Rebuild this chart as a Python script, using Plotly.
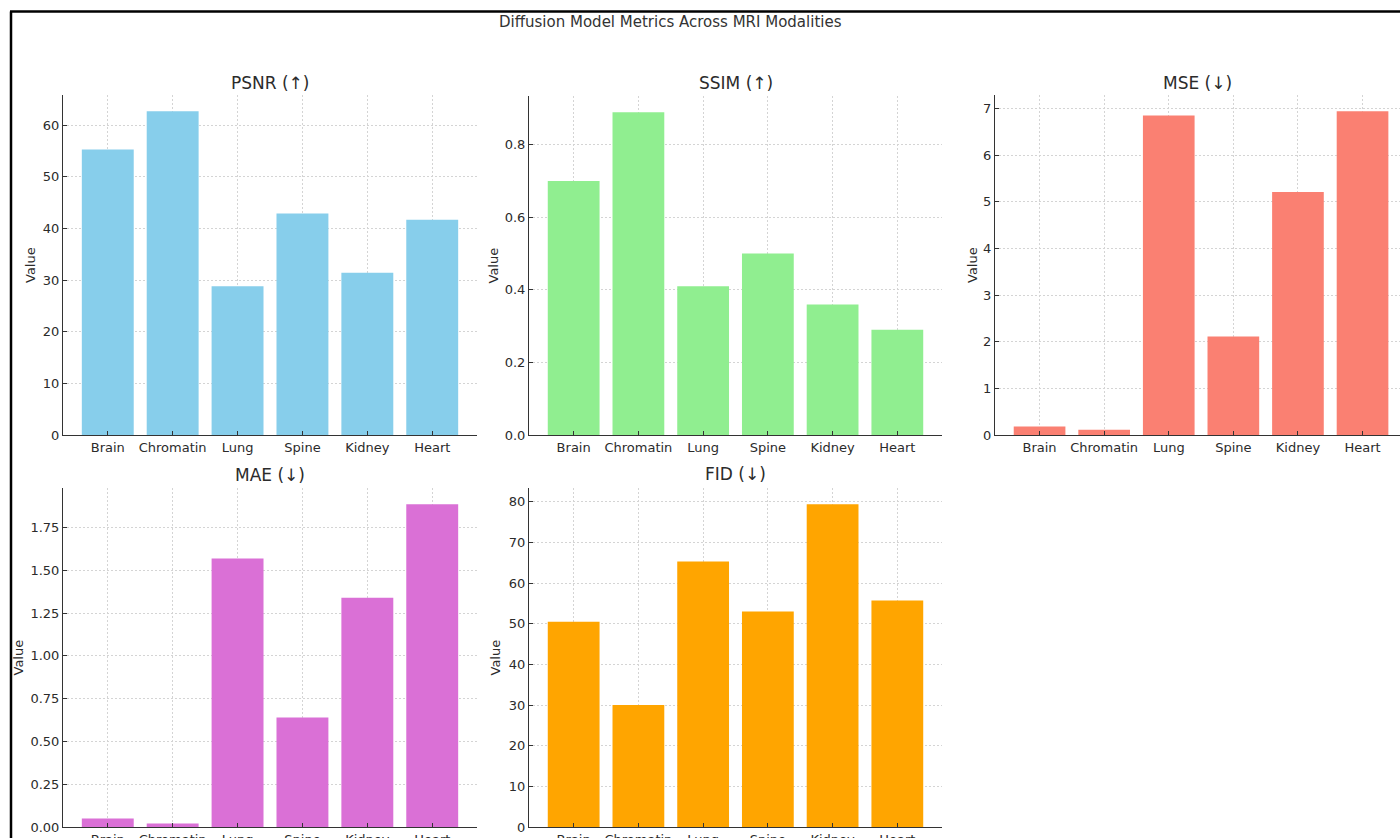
import plotly.graph_objects as go

categories = ["Brain", "Chromatin", "Lung", "Spine", "Kidney", "Heart"]
psnr = [55.3, 62.7, 28.8, 42.9, 31.4, 41.7]
ssim = [0.70, 0.89, 0.41, 0.50, 0.36, 0.29]
mse = [0.18, 0.11, 6.85, 2.11, 5.21, 6.94]
mae = [0.05, 0.02, 1.57, 0.64, 1.34, 1.887]
fid = [50.5, 30.0, 65.3, 53.0, 79.4, 55.7]

titles = ["PSNR (↑)", "SSIM (↑)", "MSE (↓)", "MAE (↓)", "FID (↓)"]
series = [psnr, ssim, mse, mae, fid]
colors = ["#87CEEB", "#90EE90", "#FA8072", "#DA70D6", "#FFA500"]
tickvals = [
    [0, 10, 20, 30, 40, 50, 60],
    [0.0, 0.2, 0.4, 0.6, 0.8],
    [0, 1, 2, 3, 4, 5, 6, 7],
    [0.0, 0.25, 0.5, 0.75, 1.0, 1.25, 1.5, 1.75],
    [0, 10, 20, 30, 40, 50, 60, 70, 80],
]
tickfmt = ["d", ".1f", "d", ".2f", "d"]
main_title = "Diffusion Model Metrics Across MRI Modalities"

W, H = 1400, 838
HFIG = 847
FONT = "DejaVu Sans"
TXT = "#2b2b2b"

# pixel boxes: (x0, x1, ytop, ybottom)
boxes = [
    (63, 477, 95, 435),
    (529, 942, 96, 435),
    (995, 1400, 95, 435),
    (63, 477, 488, 827),
    (529, 942, 488, 827),
]
xranges = [[-0.69, 5.69], [-0.69, 5.69], [-0.69, 5.58], [-0.69, 5.69], [-0.69, 5.69]]
title_y = [83, 83, 83, 475, 474]
ylabel_x = [30, 493, 972, 18, 495]


def px(x):
    return x / W


def py(y):
    return 1 - y / H


fig = go.Figure()
layout = dict(
    width=W, height=HFIG,
    margin=dict(l=0, r=0, t=0, b=0),
    paper_bgcolor="white", plot_bgcolor="white",
    showlegend=False,
    font=dict(family=FONT, size=13, color=TXT),
    bargap=0.2,
)
annotations = []
grid = dict(showgrid=True, gridcolor="#d4d4d4", griddash="2px,2px", gridwidth=0.7)
for i, (vals, col) in enumerate(zip(series, colors)):
    n = i + 1
    xa = "x" if n == 1 else f"x{n}"
    ya = "y" if n == 1 else f"y{n}"
    fig.add_trace(go.Bar(x=categories, y=vals, marker=dict(color=col, line=dict(width=0)),
                         width=0.8, xaxis=xa, yaxis=ya, hoverinfo="skip"))
    x0, x1, yt, yb = boxes[i]
    ymax = max(vals) * 1.05
    layout["xaxis" if n == 1 else f"xaxis{n}"] = dict(
        domain=[px(x0), px(x1)], anchor=ya, range=xranges[i], type="category",
        showline=True, linecolor="#333", linewidth=1,
        ticks="inside", ticklen=4, tickcolor="#333",
        tickfont=dict(family=FONT, size=13, color=TXT), fixedrange=True, **grid,
    )
    layout["yaxis" if n == 1 else f"yaxis{n}"] = dict(
        domain=[py(yb), py(yt)], anchor=xa, range=[0, ymax],
        tickvals=tickvals[i], tickformat=tickfmt[i],
        zeroline=False, showline=True, linecolor="#333", linewidth=1,
        ticks="inside", ticklen=4, tickcolor="#333",
        tickfont=dict(family=FONT, size=13, color=TXT), fixedrange=True, **grid,
    )
    annotations.append(dict(text=titles[i], x=px((x0 + x1) / 2), y=py(title_y[i]),
                            xref="paper", yref="paper", showarrow=False,
                            xanchor="center", yanchor="middle",
                            font=dict(family=FONT, size=17, color=TXT)))
    annotations.append(dict(text="Value", x=px(ylabel_x[i]), y=py((yt + yb) / 2),
                            xref="paper", yref="paper", showarrow=False, textangle=-90,
                            xanchor="center", yanchor="middle",
                            font=dict(family=FONT, size=13, color=TXT)))

annotations.append(dict(text=main_title, x=px(670), y=py(22), xref="paper", yref="paper",
                        showarrow=False, xanchor="center", yanchor="middle",
                        font=dict(family=FONT, size=15, color="#333")))
layout["annotations"] = annotations
layout["shapes"] = [
    dict(type="line", xref="paper", yref="paper", x0=px(10), x1=1, y0=py(11.5), y1=py(11.5),
         line=dict(color="black", width=2.5)),
    dict(type="line", xref="paper", yref="paper", x0=px(11), x1=px(11), y0=0, y1=py(11.5),
         line=dict(color="black", width=2.5)),
]
fig.update_layout(**layout)
post = (
    "document.documentElement.style.margin='0';"
    "document.body.style.margin='0';"
    "document.documentElement.style.overflow='hidden';"
    "document.body.style.overflow='hidden';"
    "var d=document.getElementById('{plot_id}');"
    "d.style.position='fixed';d.style.top='0';d.style.left='0';"
)
fig.write_html("out.html", config={"displayModeBar": False}, post_script=post)
